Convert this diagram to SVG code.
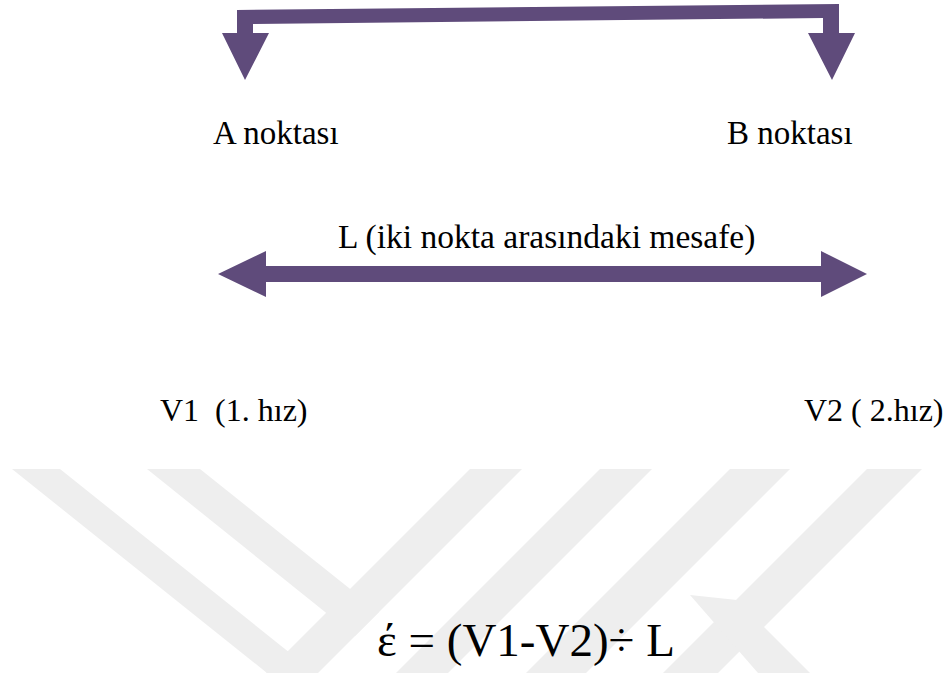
<svg xmlns="http://www.w3.org/2000/svg" width="945" height="673" viewBox="0 0 945 673">
<style>
.wm{fill:#eeeeee}
.arr{fill:#5f4b7b}
</style>
<rect width="945" height="673" fill="#ffffff"/>
<g id="watermark">
<polygon class="wm" points="12,469 60,469 315,673 267,673"/>
<polygon class="wm" points="147,469 200,469 379,612 355,636"/>
<polygon class="wm" points="470,469 522,469 318,673 266,673"/>
<polygon class="wm" points="600,469 652,469 448,673 396,673"/>
<polygon class="wm" points="730,469 790,469 586,673 526,673"/>
<polygon class="wm" points="867,469 922,469 718,673 663,673"/>
<polygon class="wm" points="690,595 737,600 810,673 758,673"/>
</g>
<g id="connectors">
<polygon id="bracket" class="arr" points="237,10 839,4 839,33 855,33 832,80 808,33 823,33 823,18 253,24 253,33 269,33 245,80 222,33 237,33"/>
<polygon id="distance" class="arr" points="218,274 266,251 266,266 821,266 821,251 867,274 821,297 821,282 266,282 266,297"/>
</g>
<g font-family="'Liberation Serif', 'Times New Roman', 'DejaVu Serif', serif" fill="#000000">
<g id="nodeA"><text x="213" y="144" font-size="33">A noktası</text></g>
<g id="nodeB"><text x="727" y="144" font-size="33">B noktası</text></g>
<g id="labelL"><text x="338" y="248" font-size="33.5">L (iki nokta arasındaki mesafe)</text></g>
<g id="v1"><text x="160" y="421" font-size="32" xml:space="preserve">V1  (1. hız)</text></g>
<g id="v2"><text x="804" y="421" font-size="32">V2 ( 2.hız)</text></g>
<g id="formula"><text x="377" y="656" font-size="47">έ = (V1-V2)÷ L</text></g>
</g>
</svg>
